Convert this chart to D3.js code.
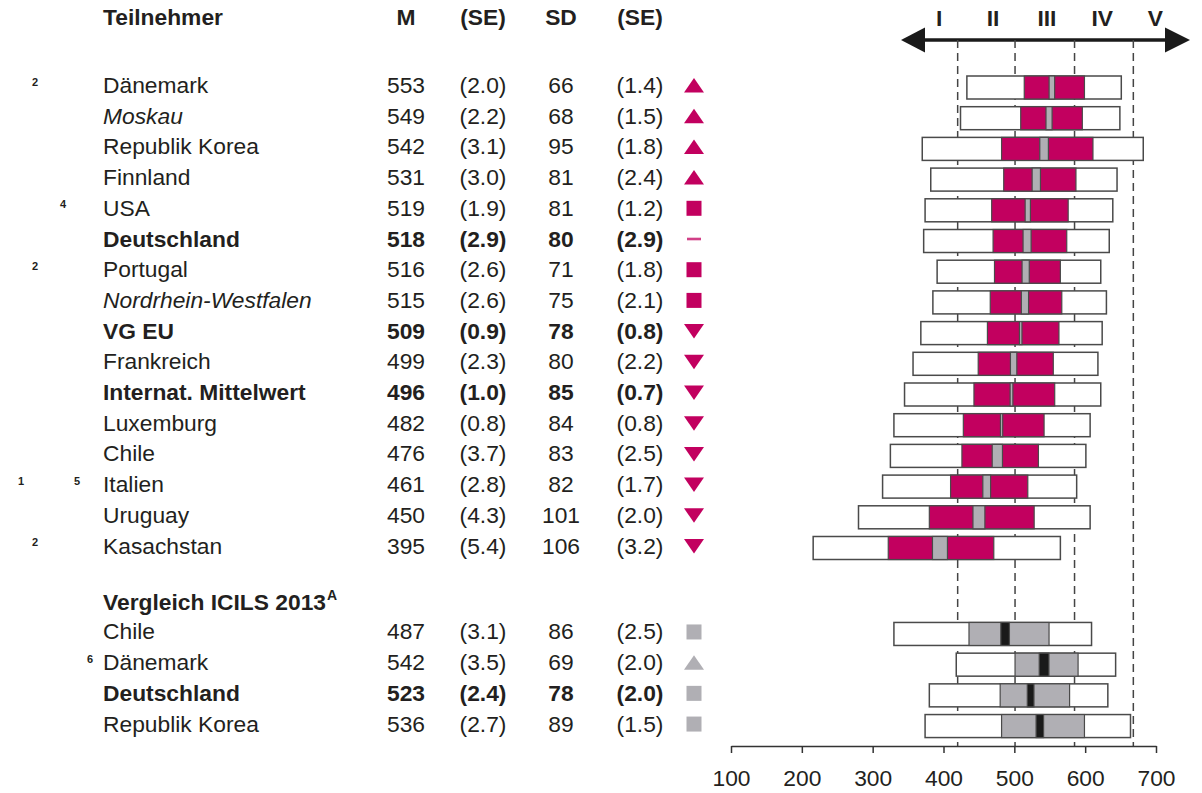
<!DOCTYPE html>
<html><head><meta charset="utf-8">
<script src="https://cdn.jsdelivr.net/npm/d3@7"></script>
<style>
body{margin:0;background:#fff;}
text{font-family:"Liberation Sans",Arial,sans-serif;fill:#231f20;}
</style></head>
<body><svg id="c" width="1202" height="793"></svg>
<script>
// ---- data ----
const countries = ["Dänemark","Moskau","Republik Korea","Finnland","USA","Deutschland","Portugal","Nordrhein-Westfalen","VG EU","Frankreich","Internat. Mittelwert","Luxemburg","Chile","Italien","Uruguay","Kasachstan"];
const rowType = ["n","i","n","n","n","b","n","i","b","n","b","n","n","n","n","n"];
const footnotes = [["2"],[],[],[],["4"],[],["2"],[],[],[],[],[],[],["1","5"],[],["2"]];
const M  = [553,549,542,531,519,518,516,515,509,499,496,482,476,461,450,395];
const SE = [2.0,2.2,3.1,3.0,1.9,2.9,2.6,2.6,0.9,2.3,1.0,0.8,3.7,2.8,4.3,5.4];
const SD = [66,68,95,81,81,80,71,75,78,80,85,84,83,82,101,106];
const SEsd = [1.4,1.5,1.8,2.4,1.2,2.9,1.8,2.1,0.8,2.2,0.7,0.8,2.5,1.7,2.0,3.2];
const signif = ["up","up","up","up","sq","dash","sq","sq","down","down","down","down","down","down","down","down"];
const p5  = [433,424,370,382,374,372,391,385,368,357,345,330,325,314,280,216];
const p25 = [514,509,482,485,468,470,472,466,462,449,443,428,426,410,380,322];
const p75 = [599,596,611,587,576,574,565,567,563,555,557,542,534,519,528,471];
const p95 = [651,649,682,645,639,634,622,630,624,618,622,607,601,588,607,565];

const icilsHeader = "Vergleich ICILS 2013";
const icilsCountries = ["Chile","Dänemark","Deutschland","Republik Korea"];
const icilsType = ["n","n","b","n"];
const icilsFootnotes = [[],["6"],[],[]];
const icilsM  = [487,542,523,536];
const icilsSE = [3.1,3.5,2.4,2.7];
const icilsSD = [86,69,78,89];
const icilsSEsd = [2.5,2.0,2.0,1.5];
const icilsSignif = ["sq","up","sq","sq"];
const icilsP5  = [330,418,380,374];
const icilsP25 = [436,501,480,482];
const icilsP75 = [549,590,578,599];
const icilsP95 = [609,643,632,664];

const headers = ["Teilnehmer","M","(SE)","SD","(SE)"];
const levelBounds = [420,501,585,668];
const levelLabels = ["I","II","III","IV","V"];
const levelLabelPos = [394,470,546,624,699];
const axisTicks = [100,200,300,400,500,600,700];

// ---- layout ----
const PINK = "#c2005f", GRAY = "#b0afb4", STROKE = "#4a4a4a";
const svg = d3.select("#c");
const x = d3.scaleLinear().domain([100,700]).range([731,1156]);
const y = d3.scaleLinear().domain([0,1]).range([87.5,118.2]);
const fs = 22.8;
const colX = {m:406, se:483, sd:561, se2:640, mk:694, name:103};
const fnX = {"1":21,"2":35,"4":63,"5":77,"6":90};

const rows = countries.map((c,i)=>({name:c,type:rowType[i],fn:footnotes[i],m:M[i],se:SE[i],sd:SD[i],se2:SEsd[i],sig:signif[i],p5:p5[i],p25:p25[i],p75:p75[i],p95:p95[i],pos:i,icils:false}));
const irows = icilsCountries.map((c,i)=>({name:c,type:icilsType[i],fn:icilsFootnotes[i],m:icilsM[i],se:icilsSE[i],sd:icilsSD[i],se2:icilsSEsd[i],sig:icilsSignif[i],p5:icilsP5[i],p25:icilsP25[i],p75:icilsP75[i],p95:icilsP95[i],pos:17.8+i,icils:true}));
const all = rows.concat(irows);

// header
const hy = 25;
const hdrX = [colX.name, colX.m, colX.se, colX.sd, colX.se2];
headers.forEach((h,i)=>{
  svg.append("text").attr("x",hdrX[i]).attr("y",hy).attr("font-size",fs).attr("font-weight","bold")
    .attr("text-anchor",i===0?"start":"middle").text(h);
});

// level arrow
const ay = 40;
svg.append("line").attr("x1",912).attr("x2",1178).attr("y1",ay).attr("y2",ay).attr("stroke","#1a1a1a").attr("stroke-width",3.5);
svg.append("path").attr("d",`M901,${ay} L925,${ay-12.5} L925,${ay+12.5} Z`).attr("fill","#1a1a1a");
svg.append("path").attr("d",`M1190,${ay} L1165,${ay-12.5} L1165,${ay+12.5} Z`).attr("fill","#1a1a1a");
levelLabels.forEach((l,i)=>{
  svg.append("text").attr("x",x(levelLabelPos[i])).attr("y",26).attr("font-size",fs).attr("font-weight","bold")
    .attr("text-anchor","middle").text(l);
});
// dashed level boundaries
svg.selectAll("line.lvl").data(levelBounds).enter().append("line").attr("class","lvl")
  .attr("x1",d=>x(d)).attr("x2",d=>x(d)).attr("y1",ay).attr("y2",746)
  .attr("stroke","#444").attr("stroke-width",1.5).attr("stroke-dasharray","8,5");

// axis
const ax = svg.append("g").attr("transform","translate(0,746)")
  .call(d3.axisBottom(x).tickValues(axisTicks).tickSize(7).tickSizeOuter(0).tickPadding(17));
ax.select(".domain").attr("stroke","#333").attr("stroke-width",1.5);
ax.selectAll(".tick line").attr("stroke","#333").attr("stroke-width",1.5);
ax.selectAll(".tick text").attr("font-size",fs).attr("fill","#231f20").style("font-family","'Liberation Sans',Arial,sans-serif");

// rows text
const g = svg.selectAll("g.row").data(all).enter().append("g").attr("class","row")
  .attr("transform",d=>`translate(0,${y(d.pos)})`);
function txt(sel,xp,f,anchor,isName){
  sel.append("text").attr("x",xp).attr("y",5.5).attr("font-size",fs)
    .attr("text-anchor",anchor)
    .attr("font-weight",d=>d.type==="b"?"bold":"normal")
    .attr("font-style",d=>(isName && d.type==="i")?"italic":"normal")
    .text(f);
}
txt(g,colX.name,d=>d.name,"start",true);
txt(g,colX.m,d=>d.m,"middle");
txt(g,colX.se,d=>`(${d.se.toFixed(1)})`,"middle");
txt(g,colX.sd,d=>d.sd,"middle");
txt(g,colX.se2,d=>`(${d.se2.toFixed(1)})`,"middle");
g.each(function(d){
  d.fn.forEach(f=>{
    d3.select(this).append("text").attr("x",fnX[f]).attr("y",-2).attr("font-size",11).attr("font-weight","bold")
      .attr("text-anchor","middle").attr("fill","#333").text(f);
  });
});

// markers
g.each(function(d){
  const s = d3.select(this), c = d.icils?GRAY:PINK, mx = colX.mk;
  if(d.sig==="up") s.append("path").attr("d",`M${mx-10},${-2+7} L${mx+10},${-2+7} L${mx},${-2-7.5} Z`).attr("fill",c);
  else if(d.sig==="down") s.append("path").attr("d",`M${mx-10},${-2-7} L${mx+10},${-2-7} L${mx},${-2+7.5} Z`).attr("fill",c);
  else if(d.sig==="sq") s.append("rect").attr("x",mx-7.5).attr("y",-2-7.5).attr("width",15).attr("height",15).attr("fill",c);
  else if(d.sig==="dash") s.append("rect").attr("x",mx-7).attr("y",-2-1.3).attr("width",14).attr("height",2.6).attr("fill",c).attr("opacity",0.75);
});

// header ICILS
const ih = svg.append("text").attr("x",colX.name).attr("y",y(16.8)+7).attr("font-size",fs).attr("font-weight","bold").text(icilsHeader);
const ihw = ih.node().getComputedTextLength();
svg.append("text").attr("x",colX.name+ihw+1).attr("y",y(16.8)-3).attr("font-size",14).attr("font-weight","bold").text("A");

// boxes
const bh = 23;
g.append("rect").attr("x",d=>x(d.p5)).attr("width",d=>x(d.p95)-x(d.p5)).attr("y",-bh/2).attr("height",bh)
  .attr("fill","#fff").attr("stroke",STROKE).attr("stroke-width",1.5);
g.append("rect").attr("x",d=>x(d.p25)).attr("width",d=>x(d.p75)-x(d.p25)).attr("y",-bh/2).attr("height",bh)
  .attr("fill",d=>d.icils?GRAY:PINK).attr("stroke",STROKE).attr("stroke-width",1.2);
g.append("rect").attr("x",d=>x(d.m-1.96*d.se)).attr("width",d=>x(d.m+1.96*d.se)-x(d.m-1.96*d.se)).attr("y",-bh/2).attr("height",bh)
  .attr("fill",d=>d.icils?"#1a1a1a":GRAY).attr("stroke",STROKE).attr("stroke-width",1.2);
</script></body></html>
